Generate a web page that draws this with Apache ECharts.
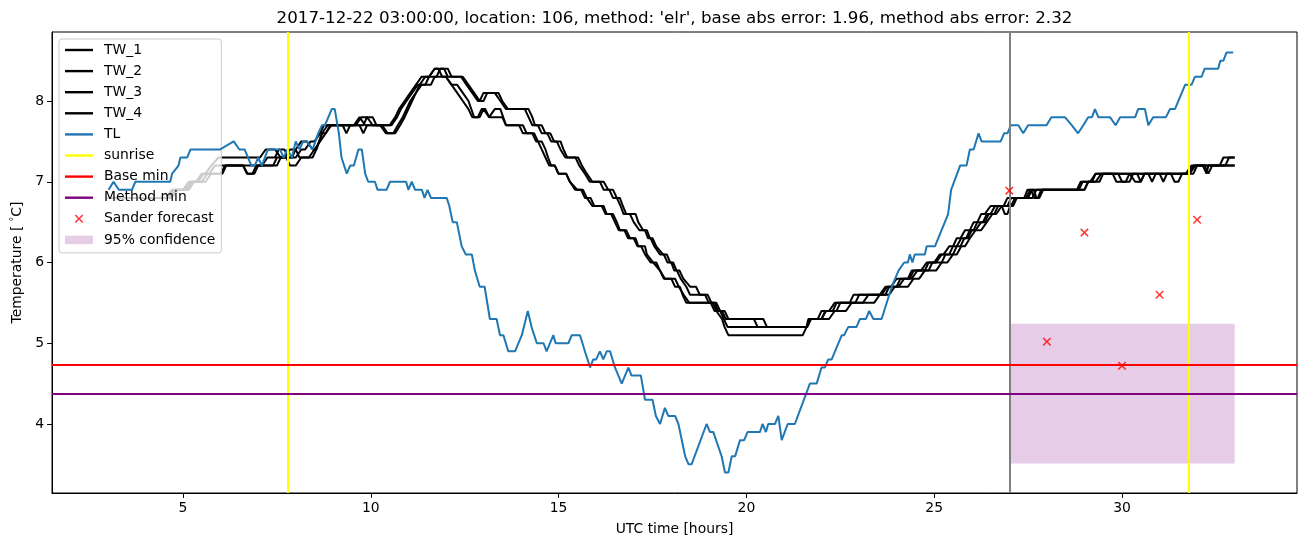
<!DOCTYPE html>
<html><head><meta charset="utf-8">
<script src="https://cdn.jsdelivr.net/npm/echarts@6/dist/echarts.min.js"></script>
<style>html,body{margin:0;padding:0;background:#fff}#c{width:1302px;height:547px}</style>
</head><body><div id="c"></div>
<script>
// ---- data (hour, temperature) ----
const tw1 = [[3.0,6.8],[4.55,6.8],[4.7,6.9],[5.0,6.9],[5.15,7.0],[5.35,7.0],[5.5,7.1],[5.6,7.1],[5.75,7.2],[5.8,7.2],[5.95,7.3],[7.05,7.3],[7.2,7.4],[7.45,7.4],[7.6,7.3],[7.7,7.3],[7.85,7.4],[8.0,7.4],[8.15,7.5],[8.3,7.5],[8.45,7.4],[8.55,7.4],[8.7,7.6],[8.8,7.6],[8.95,7.7],[9.6,7.7],[9.75,7.8],[9.9,7.8],[10.05,7.7],[10.5,7.7],[10.65,7.8],[10.75,7.9],[10.9,8.0],[11.05,8.1],[11.2,8.2],[11.35,8.3],[11.75,8.3],[11.85,8.4],[12.05,8.4],[12.15,8.3],[12.45,8.3],[12.6,8.2],[12.75,8.1],[12.9,8.0],[13.0,8.1],[13.4,8.1],[13.5,8.0],[13.65,7.9],[14.2,7.9],[14.3,7.8],[14.37,7.7],[14.55,7.7],[14.65,7.6],[14.78,7.6],[14.88,7.5],[15.05,7.5],[15.13,7.4],[15.23,7.3],[15.52,7.3],[15.62,7.2],[15.75,7.1],[15.9,7.0],[16.2,7.0],[16.32,6.9],[16.45,6.9],[16.55,6.8],[16.63,6.8],[16.71,6.7],[16.8,6.6],[17.05,6.6],[17.12,6.5],[17.25,6.4],[17.35,6.4],[17.43,6.3],[17.5,6.3],[17.6,6.2],[17.78,6.1],[17.88,6.1],[17.97,6.0],[18.05,6.0],[18.14,5.9],[18.22,5.9],[18.32,5.8],[18.5,5.7],[18.66,5.7],[18.76,5.6],[18.97,5.6],[19.07,5.5],[19.2,5.5],[19.3,5.4],[19.42,5.4],[19.52,5.3],[20.45,5.3],[20.55,5.2],[21.6,5.2],[21.7,5.3],[22.2,5.3],[22.35,5.4],[22.65,5.4],[22.8,5.5],[23.4,5.5],[23.55,5.6],[23.8,5.6],[23.95,5.7],[24.3,5.7],[24.45,5.8],[24.6,5.8],[24.75,5.9],[25.05,5.9],[25.2,6.0],[25.35,6.0],[25.5,6.1],[25.6,6.1],[25.72,6.2],[25.82,6.2],[25.95,6.3],[26.0,6.3],[26.1,6.4],[26.25,6.4],[26.4,6.5],[26.45,6.5],[26.55,6.6],[26.65,6.6],[26.8,6.7],[26.95,6.7],[27.05,6.8],[27.5,6.8],[27.6,6.9],[28.85,6.9],[28.95,7.0],[29.15,7.0],[29.3,7.1],[30.2,7.1],[30.35,7.0],[30.5,7.0],[30.6,7.1],[31.7,7.1],[31.85,7.2],[32.6,7.2],[32.7,7.3],[33.0,7.3]];
const tw2 = [[3.0,6.8],[4.6,6.8],[4.75,6.9],[5.05,6.9],[5.2,7.0],[5.4,7.0],[5.55,7.1],[5.7,7.1],[5.85,7.2],[6.6,7.2],[6.7,7.1],[6.85,7.1],[6.95,7.2],[7.1,7.2],[7.25,7.3],[7.45,7.3],[7.55,7.4],[7.7,7.4],[7.8,7.3],[8.0,7.3],[8.15,7.4],[8.25,7.4],[8.4,7.5],[8.5,7.5],[8.65,7.6],[8.75,7.7],[9.25,7.7],[9.35,7.6],[9.45,7.7],[9.8,7.7],[9.9,7.8],[10.05,7.8],[10.15,7.7],[10.55,7.7],[10.7,7.8],[10.8,7.9],[10.95,8.0],[11.1,8.1],[11.25,8.2],[11.45,8.2],[11.55,8.3],[11.7,8.4],[11.95,8.4],[12.05,8.3],[12.4,8.3],[12.55,8.2],[12.7,8.1],[12.85,8.0],[13.0,8.0],[13.1,8.1],[13.3,8.1],[13.45,8.0],[13.6,7.9],[14.1,7.9],[14.2,7.8],[14.3,7.7],[14.45,7.7],[14.55,7.6],[14.7,7.6],[14.8,7.5],[14.95,7.5],[15.05,7.4],[15.18,7.3],[15.45,7.3],[15.55,7.2],[15.7,7.1],[15.83,7.0],[16.1,7.0],[16.2,6.9],[16.35,6.9],[16.45,6.8],[16.55,6.8],[16.65,6.7],[16.73,6.6],[16.9,6.6],[17.0,6.5],[17.15,6.4],[17.3,6.4],[17.38,6.3],[17.45,6.3],[17.55,6.2],[17.7,6.1],[17.8,6.1],[17.9,6.0],[18.0,6.0],[18.08,5.9],[18.15,5.9],[18.25,5.8],[18.4,5.7],[18.5,5.6],[18.9,5.6],[19.0,5.5],[19.15,5.5],[19.25,5.4],[19.35,5.4],[19.45,5.3],[20.2,5.3],[20.3,5.2],[21.62,5.2],[21.72,5.3],[22.0,5.3],[22.12,5.4],[22.4,5.4],[22.5,5.5],[23.1,5.5],[23.25,5.6],[23.7,5.6],[23.8,5.7],[24.05,5.7],[24.2,5.8],[24.4,5.8],[24.55,5.9],[24.85,5.9],[24.95,6.0],[25.2,6.0],[25.3,6.1],[25.5,6.1],[25.6,6.2],[25.7,6.2],[25.8,6.3],[25.9,6.3],[26.0,6.4],[26.1,6.4],[26.25,6.5],[26.35,6.5],[26.45,6.6],[26.6,6.6],[26.7,6.7],[26.85,6.7],[26.95,6.8],[27.45,6.8],[27.55,6.9],[27.65,6.9],[27.72,6.8],[27.8,6.8],[27.9,6.9],[29.0,6.9],[29.1,7.0],[29.4,7.0],[29.5,7.1],[29.9,7.1],[30.0,7.0],[30.2,7.0],[30.3,7.1],[30.7,7.1],[30.8,7.0],[30.9,7.1],[31.75,7.1],[31.9,7.2],[32.15,7.2],[32.25,7.1],[32.3,7.2],[33.0,7.2]];
const tw3 = [[3.0,6.8],[4.65,6.8],[4.8,6.9],[5.1,6.9],[5.25,7.0],[5.5,7.0],[5.65,7.1],[6.0,7.1],[6.12,7.2],[6.6,7.2],[6.72,7.1],[6.9,7.1],[7.0,7.2],[7.5,7.2],[7.6,7.3],[7.9,7.3],[8.0,7.4],[8.1,7.3],[8.35,7.3],[8.5,7.4],[8.65,7.5],[8.8,7.6],[8.92,7.7],[9.55,7.7],[9.7,7.8],[9.85,7.7],[10.3,7.7],[10.45,7.6],[10.65,7.6],[10.78,7.7],[10.9,7.8],[11.0,7.9],[11.1,8.0],[11.2,8.1],[11.35,8.2],[11.6,8.2],[11.7,8.3],[12.0,8.3],[12.15,8.2],[12.3,8.2],[12.45,8.1],[12.6,8.0],[12.75,7.8],[12.9,7.8],[13.0,7.9],[13.15,7.8],[13.3,7.9],[13.45,7.9],[13.6,7.7],[14.05,7.7],[14.15,7.6],[14.35,7.6],[14.45,7.5],[14.55,7.4],[14.65,7.3],[14.75,7.2],[14.9,7.2],[15.0,7.1],[15.2,7.1],[15.3,7.0],[15.44,6.9],[15.65,6.9],[15.75,6.8],[15.9,6.7],[16.2,6.7],[16.28,6.6],[16.45,6.6],[16.55,6.5],[16.63,6.4],[16.8,6.4],[16.9,6.3],[17.05,6.3],[17.12,6.2],[17.3,6.2],[17.35,6.1],[17.52,6.0],[17.7,5.9],[17.83,5.8],[18.1,5.8],[18.2,5.7],[18.33,5.6],[18.48,5.5],[19.05,5.5],[19.15,5.4],[19.3,5.4],[19.4,5.3],[19.5,5.2],[21.6,5.2],[21.7,5.3],[22.0,5.3],[22.1,5.4],[22.2,5.4],[22.35,5.5],[22.9,5.5],[23.0,5.6],[23.6,5.6],[23.75,5.7],[24.0,5.7],[24.1,5.8],[24.3,5.8],[24.4,5.9],[24.75,5.9],[24.85,6.0],[25.05,6.0],[25.2,6.1],[25.4,6.1],[25.5,6.2],[25.6,6.2],[25.72,6.3],[25.85,6.3],[25.95,6.4],[26.05,6.4],[26.15,6.5],[26.3,6.5],[26.4,6.6],[26.5,6.6],[26.62,6.7],[27.05,6.7],[27.15,6.8],[27.62,6.8],[27.72,6.9],[28.8,6.9],[28.9,7.0],[29.2,7.0],[29.3,7.1],[29.75,7.1],[29.85,7.0],[30.1,7.0],[30.2,7.1],[31.0,7.1],[31.1,7.0],[31.2,7.1],[31.8,7.1],[31.95,7.2],[32.75,7.2],[32.85,7.3],[33.0,7.3]];
const tw4 = [[3.0,6.8],[4.7,6.8],[4.85,6.9],[5.15,6.9],[5.3,7.0],[5.6,7.0],[5.75,7.1],[6.05,7.1],[6.15,7.2],[7.4,7.2],[7.5,7.3],[7.75,7.3],[7.85,7.2],[8.0,7.2],[8.15,7.3],[8.45,7.3],[8.55,7.4],[8.7,7.6],[8.85,7.7],[9.7,7.7],[9.8,7.6],[9.9,7.7],[10.25,7.7],[10.4,7.6],[10.6,7.6],[10.72,7.7],[10.85,7.8],[10.95,7.9],[11.05,8.0],[11.2,8.1],[11.3,8.2],[11.45,8.3],[11.55,8.3],[11.7,8.4],[11.8,8.4],[11.9,8.3],[12.0,8.3],[12.15,8.2],[12.3,8.1],[12.45,8.0],[12.6,7.9],[12.7,7.8],[12.85,7.8],[12.95,7.9],[13.05,7.9],[13.15,7.8],[13.5,7.8],[13.6,7.7],[13.95,7.7],[14.05,7.6],[14.3,7.6],[14.4,7.5],[14.55,7.5],[14.65,7.4],[14.72,7.3],[14.8,7.2],[14.9,7.2],[14.99,7.1],[15.2,7.1],[15.3,7.0],[15.5,6.9],[15.6,6.9],[15.7,6.8],[15.85,6.8],[15.95,6.7],[16.15,6.7],[16.25,6.6],[16.4,6.6],[16.5,6.5],[16.6,6.4],[16.75,6.4],[16.85,6.3],[17.0,6.3],[17.1,6.2],[17.2,6.2],[17.3,6.1],[17.45,6.0],[17.6,6.0],[17.7,5.9],[17.8,5.8],[18.0,5.8],[18.1,5.7],[18.23,5.7],[18.3,5.6],[18.4,5.5],[19.1,5.5],[19.2,5.4],[19.35,5.3],[19.42,5.2],[19.52,5.1],[21.5,5.1],[21.6,5.2],[21.65,5.3],[21.9,5.3],[22.0,5.4],[22.3,5.4],[22.4,5.5],[22.75,5.5],[22.85,5.6],[23.55,5.6],[23.7,5.7],[23.85,5.7],[24.0,5.8],[24.35,5.8],[24.45,5.9],[24.65,5.9],[24.8,6.0],[25.0,6.0],[25.15,6.1],[25.25,6.1],[25.4,6.2],[25.5,6.2],[25.6,6.3],[25.7,6.3],[25.82,6.4],[25.95,6.4],[26.05,6.5],[26.15,6.5],[26.25,6.6],[26.35,6.6],[26.5,6.7],[26.8,6.7],[26.88,6.6],[26.95,6.6],[27.02,6.7],[27.1,6.7],[27.2,6.8],[27.4,6.8],[27.48,6.9],[27.58,6.9],[27.66,6.8],[27.76,6.8],[27.85,6.9],[29.0,6.9],[29.1,7.0],[29.3,7.0],[29.45,7.1],[30.4,7.1],[30.5,7.0],[30.6,7.1],[31.3,7.1],[31.4,7.0],[31.5,7.0],[31.6,7.1],[31.9,7.1],[32.0,7.2],[32.2,7.2],[32.3,7.1],[32.4,7.2],[33.0,7.2]];
const tl = [[3.02,6.9],[3.15,7.0],[3.29,6.9],[3.64,6.9],[3.73,7.0],[4.66,7.0],[4.71,7.1],[4.88,7.2],[4.93,7.3],[5.11,7.3],[5.2,7.4],[5.99,7.4],[6.35,7.5],[6.5,7.4],[6.64,7.4],[6.82,7.2],[6.91,7.2],[7.0,7.3],[7.1,7.2],[7.26,7.4],[7.58,7.4],[7.68,7.3],[7.78,7.4],[7.9,7.3],[8.0,7.5],[8.1,7.4],[8.2,7.5],[8.3,7.5],[8.45,7.4],[8.6,7.6],[8.7,7.7],[8.78,7.7],[8.87,7.8],[8.96,7.9],[9.04,7.9],[9.15,7.6],[9.22,7.3],[9.36,7.1],[9.45,7.2],[9.55,7.2],[9.67,7.4],[9.76,7.4],[9.85,7.1],[9.93,7.0],[10.11,7.0],[10.18,6.9],[10.42,6.9],[10.51,7.0],[10.94,7.0],[11.0,6.9],[11.09,7.0],[11.18,6.9],[11.36,6.9],[11.43,6.8],[11.51,6.9],[11.6,6.8],[12.02,6.8],[12.09,6.7],[12.18,6.5],[12.29,6.5],[12.42,6.2],[12.53,6.1],[12.69,6.1],[12.77,5.9],[12.9,5.7],[13.03,5.7],[13.17,5.3],[13.35,5.3],[13.44,5.1],[13.53,5.1],[13.66,4.9],[13.84,4.9],[14.02,5.1],[14.18,5.4],[14.28,5.2],[14.42,5.0],[14.6,5.0],[14.68,4.9],[14.86,5.1],[14.92,5.0],[15.26,5.0],[15.35,5.1],[15.57,5.1],[15.7,4.9],[15.84,4.7],[15.92,4.8],[16.0,4.8],[16.1,4.9],[16.19,4.8],[16.28,4.9],[16.37,4.9],[16.5,4.7],[16.68,4.5],[16.86,4.7],[16.94,4.6],[17.19,4.6],[17.3,4.3],[17.5,4.3],[17.59,4.1],[17.7,4.0],[17.83,4.2],[17.92,4.1],[18.1,4.1],[18.19,4.0],[18.37,3.6],[18.46,3.5],[18.54,3.5],[18.94,4.0],[19.03,3.9],[19.12,3.9],[19.34,3.6],[19.43,3.4],[19.52,3.4],[19.61,3.6],[19.7,3.6],[19.83,3.8],[19.94,3.8],[20.03,3.9],[20.36,3.9],[20.43,4.0],[20.52,3.9],[20.58,4.0],[20.76,4.0],[20.85,4.1],[20.94,3.8],[21.1,4.0],[21.29,4.0],[21.69,4.5],[21.87,4.5],[22.0,4.7],[22.09,4.7],[22.18,4.8],[22.27,4.8],[22.54,5.1],[22.6,5.1],[22.71,5.2],[22.93,5.2],[23.02,5.3],[23.18,5.3],[23.27,5.4],[23.38,5.3],[23.6,5.3],[23.87,5.7],[24.05,5.9],[24.2,6.0],[24.3,6.0],[24.35,6.1],[24.42,6.0],[24.48,6.1],[24.75,6.1],[24.8,6.2],[25.02,6.2],[25.37,6.6],[25.45,6.9],[25.69,7.2],[25.86,7.2],[25.95,7.4],[26.05,7.4],[26.18,7.6],[26.26,7.5],[26.77,7.5],[26.86,7.6],[26.95,7.6],[27.04,7.7],[27.24,7.7],[27.37,7.6],[27.5,7.7],[27.99,7.7],[28.12,7.8],[28.48,7.8],[28.66,7.7],[28.83,7.6],[28.97,7.7],[29.1,7.8],[29.2,7.8],[29.28,7.9],[29.37,7.8],[29.68,7.8],[29.83,7.7],[29.95,7.8],[30.35,7.8],[30.43,7.9],[30.61,7.9],[30.7,7.7],[30.83,7.8],[31.17,7.8],[31.28,7.9],[31.41,7.9],[31.68,8.2],[31.85,8.2],[31.94,8.3],[32.12,8.3],[32.2,8.4],[32.56,8.4],[32.62,8.5],[32.7,8.5],[32.78,8.6],[32.96,8.6]];
const forecastHours = [27, 28, 29, 30, 31, 32];
const forecastValues = [6.89, 5.02, 6.37, 4.72, 5.60, 6.53];
const sunriseHours = [7.8, 31.78];
const forecastStartHour = 27.0;
const baseMin = 4.73;
const methodMin = 4.37;
const confidenceHours = [27.0, 33.0];
const confidenceValues = [3.51, 5.24];
const xTicks = [5, 10, 15, 20, 25, 30];
const yTicks = [4, 5, 6, 7, 8];
const titleText = "2017-12-22 03:00:00, location: 106, method: 'elr', base abs error: 1.96, method abs error: 2.32";

// ---- chart ----
const FONT = 'DejaVu Sans';
const LINE_ICON = 'path://M0,0H28V2.4H0Z';
const X_ICON = 'path://M0,1L1,0L4,3L7,0L8,1L5,4L8,7L7,8L4,5L1,8L0,7L3,4Z';
const forecastData = forecastHours.map((h, i) => [h, forecastValues[i]]);

function lineSeries(name, data, color, z) {
  return { name, type: 'line', data, symbol: 'none', showSymbol: false, z,
    lineStyle: { color, width: 2 }, itemStyle: { color }, color,
    emphasis: { disabled: true }, animation: false };
}
function markLineSeries(name, color, lines, z) {
  return { name, type: 'line', data: [], color, z, animation: false,
    lineStyle: { color, width: 2 }, itemStyle: { color },
    markLine: { silent: true, symbol: ['none', 'none'], animation: false,
      label: { show: false }, lineStyle: { color, width: 2, type: 'solid' },
      emphasis: { disabled: true }, data: lines } };
}

const option = {
  animation: false,
  backgroundColor: '#fff',
  textStyle: { fontFamily: FONT },
  title: {
    text: titleText, left: 674.5, top: 10, padding: 0, textAlign: 'center',
    textStyle: { fontFamily: FONT, fontSize: 16.7, fontWeight: 'normal', color: '#000' }
  },
  grid: { left: 52, right: 5, top: 32, bottom: 54, show: true, borderColor: '#000', borderWidth: 1, backgroundColor: 'transparent' },
  xAxis: {
    type: 'value', min: 1.512, max: 34.659,
    name: 'UTC time [hours]', nameLocation: 'middle', nameGap: 29,
    nameTextStyle: { fontFamily: FONT, fontSize: 13.9, color: '#000' },
    axisLine: { show: true, onZero: false, lineStyle: { color: '#000', width: 1 } },
    axisTick: { show: true, length: 4.9, lineStyle: { color: '#000', width: 1 }, customValues: xTicks },
    axisLabel: { fontFamily: FONT, fontSize: 13.9, color: '#000', margin: 8, customValues: xTicks },
    splitLine: { show: false }
  },
  yAxis: {
    type: 'value', min: 3.1455, max: 8.8545,
    name: 'Temperature [{s|°}C]', nameLocation: 'middle', nameGap: 26, nameRotate: 90,
    nameTextStyle: { fontFamily: FONT, fontSize: 13.9, color: '#000',
      rich: { s: { fontFamily: FONT, fontSize: 10, color: '#000', verticalAlign: 'top', padding: [0, 0, 5, 4] } } },
    axisLine: { show: true, onZero: false, lineStyle: { color: '#000', width: 1 } },
    axisTick: { show: true, length: 4.9, lineStyle: { color: '#000', width: 1 }, customValues: yTicks },
    axisLabel: { fontFamily: FONT, fontSize: 13.9, color: '#000', margin: 8, customValues: yTicks },
    splitLine: { show: false }
  },
  legend: {
    orient: 'vertical', left: 59, top: 39, selectedMode: false,
    itemWidth: 28, itemHeight: 8.5, itemGap: 7.1,
    padding: [4, 6, 6, 6],
    backgroundColor: 'rgba(255,255,255,0.8)', borderColor: '#cccccc', borderWidth: 1, borderRadius: 3,
    itemStyle: { borderWidth: 0 },
    textStyle: { fontFamily: FONT, fontSize: 13.9, color: '#000', lineHeight: 14, padding: [0, 0, 0, 6] },
    data: [
      { name: 'TW_1', icon: LINE_ICON, itemStyle: { color: '#000', borderWidth: 0 } },
      { name: 'TW_2', icon: LINE_ICON, itemStyle: { color: '#000', borderWidth: 0 } },
      { name: 'TW_3', icon: LINE_ICON, itemStyle: { color: '#000', borderWidth: 0 } },
      { name: 'TW_4', icon: LINE_ICON, itemStyle: { color: '#000', borderWidth: 0 } },
      { name: 'TL', icon: LINE_ICON, itemStyle: { color: '#1f77b4', borderWidth: 0 } },
      { name: 'sunrise', icon: LINE_ICON, itemStyle: { color: '#ffff00', borderWidth: 0 } },
      { name: 'Base min', icon: LINE_ICON, itemStyle: { color: '#ff0000', borderWidth: 0 } },
      { name: 'Method min', icon: LINE_ICON, itemStyle: { color: '#800080', borderWidth: 0 } },
      { name: 'Sander forecast', icon: X_ICON, itemStyle: { color: '#ff0000', borderWidth: 0 } },
      { name: '95% confidence', icon: 'rect', itemStyle: { color: 'rgba(128,0,128,0.2)', borderWidth: 0 } }
    ]
  },
  series: [
    { name: '95% confidence', type: 'line', data: [], z: 1, color: 'rgba(128,0,128,0.2)', animation: false,
      markArea: { silent: true, animation: false, itemStyle: { color: 'rgba(128,0,128,0.2)' },
        data: [[{ xAxis: confidenceHours[0], yAxis: confidenceValues[1] }, { xAxis: confidenceHours[1], yAxis: confidenceValues[0] }]] } },
    lineSeries('TW_1', tw1, '#000000', 3),
    lineSeries('TW_2', tw2, '#000000', 3),
    lineSeries('TW_3', tw3, '#000000', 3),
    lineSeries('TW_4', tw4, '#000000', 3),
    lineSeries('TL', tl, '#1f77b4', 4),
    markLineSeries('sunrise', '#ffff00', sunriseHours.map(h => ({ xAxis: h })), 5),
    markLineSeries('forecast start', '#808080', [{ xAxis: forecastStartHour }], 5),
    markLineSeries('Base min', '#ff0000', [{ yAxis: baseMin }], 5),
    markLineSeries('Method min', '#800080', [{ yAxis: methodMin }], 5),
    { name: 'Sander forecast', type: 'scatter', data: forecastData, symbol: X_ICON, symbolSize: 8.5,
      itemStyle: { color: '#ff0000' }, z: 6, animation: false, emphasis: { disabled: true } }
  ]
};
const chart = echarts.init(document.getElementById('c'), null, { renderer: 'canvas' });
chart.setOption(option);
</script>
</body></html>
